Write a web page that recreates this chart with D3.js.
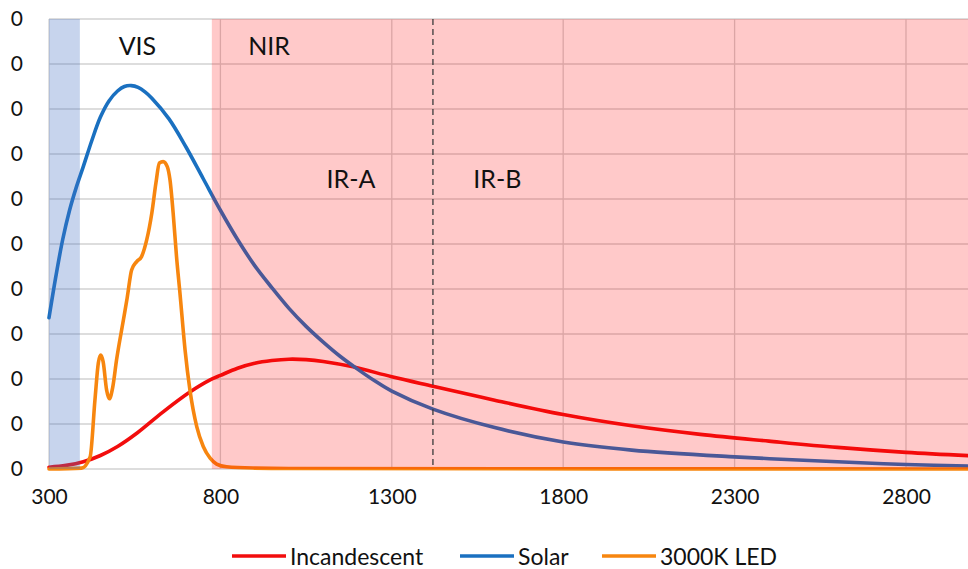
<!DOCTYPE html>
<html>
<head>
<meta charset="utf-8">
<script src="https://cdn.jsdelivr.net/npm/d3@7"></script>
<style>
  html, body { margin: 0; padding: 0; background: #fff; }
  svg { display: block; font-family: Lato, "Open Sans", sans-serif; }
</style>
</head>
<body>
<svg id="chart" width="968" height="569"></svg>
<script>
// Wavelength axis (nm) and relative spectral intensity
const xTicks = [300, 800, 1300, 1800, 2300, 2800];
const yTicks = [0, 0.1, 0.2, 0.3, 0.4, 0.5, 0.6, 0.7, 0.8, 0.9, 1.0];
const yTickLabels = ["0", "0", "0", "0", "0", "0", "0", "0", "0", "0", "0"];

// Incandescent lamp
const incandescentNm  = [300, 350, 400, 450, 500, 557, 633, 711, 770, 800, 850, 900, 950, 1000, 1050, 1100, 1187, 1300, 1420, 1600, 1800, 2000, 2200, 2400, 2600, 2800, 3000];
const incandescentVal = [0.004, 0.008, 0.016, 0.030, 0.050, 0.080, 0.127, 0.171, 0.198, 0.208, 0.224, 0.235, 0.241, 0.244, 0.243, 0.239, 0.227, 0.205, 0.184, 0.153, 0.121, 0.096, 0.077, 0.062, 0.048, 0.037, 0.029];

// Solar spectrum
const solarNm  = [300, 320, 340, 360, 380, 400, 425, 450, 475, 500, 520, 540, 560, 580, 600, 650, 700, 750, 800, 850, 900, 950, 1000, 1050, 1100, 1150, 1200, 1250, 1300, 1420, 1600, 1800, 2000, 2300, 2600, 2800, 3000];
const solarVal = [0.336, 0.428, 0.510, 0.575, 0.627, 0.672, 0.730, 0.782, 0.818, 0.840, 0.850, 0.852, 0.848, 0.838, 0.824, 0.778, 0.715, 0.645, 0.575, 0.510, 0.452, 0.403, 0.357, 0.317, 0.282, 0.250, 0.222, 0.196, 0.173, 0.133, 0.092, 0.060, 0.042, 0.027, 0.016, 0.010, 0.006];

// 3000K white LED
const ledNm  = [300, 395, 420, 434, 444, 451, 458, 468, 476, 486, 497, 517, 528, 541, 556, 570, 585, 600, 612, 622, 633, 645, 653, 663, 672, 682, 697, 711, 731, 750, 770, 789, 818, 900, 1000, 3000];
const ledVal = [0, 0.002, 0.027, 0.153, 0.236, 0.253, 0.238, 0.176, 0.156, 0.182, 0.242, 0.331, 0.380, 0.442, 0.461, 0.472, 0.509, 0.569, 0.636, 0.680, 0.683, 0.672, 0.642, 0.561, 0.472, 0.391, 0.264, 0.176, 0.094, 0.050, 0.024, 0.011, 0.005, 0.002, 0.001, 0];

// Spectral regions
const uvBand = [300, 390];
const nirBand = [775, 3000];
const irABoundary = 1420;
const regionLabels = [
  { text: "VIS",  nm: 558,  v: 0.942 },
  { text: "NIR",  nm: 942,  v: 0.942 },
  { text: "IR-A", nm: 1181, v: 0.647 },
  { text: "IR-B", nm: 1608, v: 0.647 }
];

const series = [
  { name: "Incandescent", color: "#f20d0d", nm: incandescentNm, val: incandescentVal, curve: d3.curveCatmullRom.alpha(0.5) },
  { name: "Solar",        color: "#1a70c0", nm: solarNm,        val: solarVal,        curve: d3.curveCatmullRom.alpha(0.5) },
  { name: "3000K LED",    color: "#f7860f", nm: ledNm,          val: ledVal,          curve: d3.curveMonotoneX }
];

const svg = d3.select("#chart");
const margin = { left: 49, top: 19, bottom: 469 };
const x = d3.scaleLinear().domain([300, 3000]).range([margin.left, margin.left + 2700 * 0.3428]);
const y = d3.scaleLinear().domain([0, 1]).range([margin.bottom, margin.top]);

// Gridlines
const grid = svg.append("g").attr("class", "grid");
grid.selectAll("line.h").data(yTicks).join("line")
  .attr("class", "h")
  .attr("x1", x(300)).attr("x2", x(3000))
  .attr("y1", d => y(d)).attr("y2", d => y(d))
  .attr("stroke", "#d2d2d2").attr("stroke-width", 1.3);
grid.selectAll("line.v").data(xTicks).join("line")
  .attr("class", "v")
  .attr("x1", d => x(d)).attr("x2", d => x(d))
  .attr("y1", y(0)).attr("y2", y(1))
  .attr("stroke", "#d2d2d2").attr("stroke-width", 1.3);

// Spectral curves
svg.append("g").selectAll("path").data(series).join("path")
  .attr("d", s => d3.line().x(d => x(d[0])).y(d => y(d[1])).curve(s.curve)(d3.zip(s.nm, s.val)))
  .attr("fill", "none")
  .attr("stroke", s => s.color)
  .attr("stroke-width", 3.6)
  .attr("stroke-linejoin", "round")
  .attr("stroke-linecap", "round");

// Translucent spectral bands over the curves
svg.append("rect")
  .attr("x", x(uvBand[0])).attr("y", y(1))
  .attr("width", x(uvBand[1]) - x(uvBand[0]))
  .attr("height", y(0) - y(1))
  .attr("fill", "rgb(68,114,196)").attr("fill-opacity", 0.3);
svg.append("rect")
  .attr("x", x(nirBand[0])).attr("y", y(1))
  .attr("width", x(nirBand[1]) - x(nirBand[0]))
  .attr("height", y(0) - y(1))
  .attr("fill", "rgb(255,0,0)").attr("fill-opacity", 0.21);

// IR-A / IR-B boundary
svg.append("line")
  .attr("x1", x(irABoundary)).attr("x2", x(irABoundary))
  .attr("y1", y(1)).attr("y2", y(0))
  .attr("stroke", "#3a3a3a").attr("stroke-width", 1.3)
  .attr("stroke-dasharray", "6,4");

// Region labels
svg.append("g").selectAll("text").data(regionLabels).join("text")
  .attr("x", d => x(d.nm)).attr("y", d => y(d.v))
  .attr("text-anchor", "middle").attr("dominant-baseline", "central")
  .attr("font-size", 25).attr("fill", "#111")
  .text(d => d.text);

// Axes
const xAxis = d3.axisBottom(x).tickValues(xTicks).tickSize(0).tickPadding(20)
  .tickFormat(d3.format("d"));
svg.append("g").attr("transform", `translate(0,${y(0)})`).call(xAxis)
  .call(g => g.select(".domain").remove())
  .call(g => g.selectAll("text").attr("font-size", 21).attr("fill", "#111").attr("font-family", "Lato, sans-serif"));

const yAxis = d3.axisLeft(y).tickValues(yTicks).tickSize(0).tickPadding(26)
  .tickFormat((d, i) => yTickLabels[i]);
svg.append("g").attr("transform", `translate(${x(300)},0)`).call(yAxis)
  .call(g => g.select(".domain").remove())
  .call(g => g.selectAll("text").attr("font-size", 21).attr("fill", "#111").attr("font-family", "Lato, sans-serif"));

// Legend
const legendItems = [
  { s: series[0], x: 232 },
  { s: series[1], x: 460 },
  { s: series[2], x: 602 }
];
const legend = svg.append("g").attr("transform", "translate(0,556)");
const li = legend.selectAll("g").data(legendItems).join("g")
  .attr("transform", d => `translate(${d.x},0)`);
li.append("line").attr("x1", 0).attr("x2", 54).attr("y1", 0).attr("y2", 0)
  .attr("stroke", d => d.s.color).attr("stroke-width", 3.6);
li.append("text").attr("x", 58).attr("y", 0).attr("dominant-baseline", "central")
  .attr("font-size", 23).attr("fill", "#111")
  .text(d => d.s.name);
</script>
</body>
</html>
